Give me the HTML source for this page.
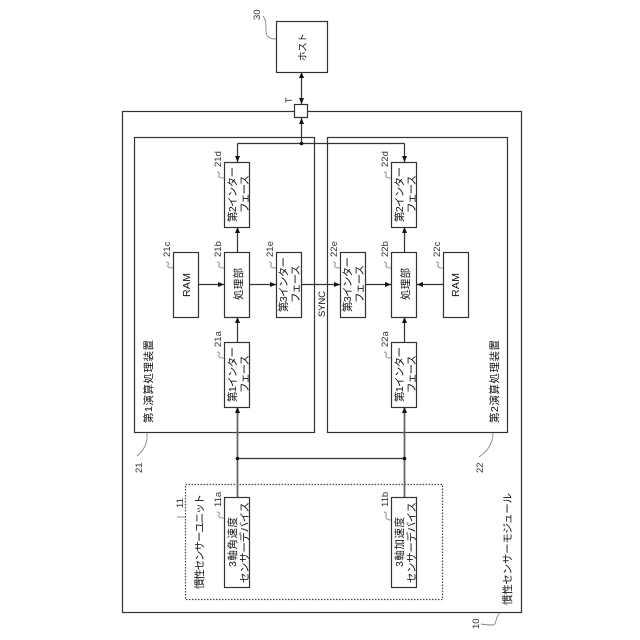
<!DOCTYPE html>
<html lang="ja"><head><meta charset="utf-8">
<style>
html,body{margin:0;padding:0;background:#fff}
svg{display:block}
text{font-family:"Liberation Sans","Noto Sans CJK JP",sans-serif;fill:#111;font-size:10.500px}
.n{font-size:9.500px;fill:#333}
rect{fill:#fff;stroke:#333;stroke-width:1.200}
path.l{fill:none;stroke:#333;stroke-width:1.200}
path.c{fill:none;stroke:#888;stroke-width:.9}
path.a{fill:#111;stroke:none}
</style></head><body>
<svg width="640" height="640" viewBox="0 0 640 640" xmlns="http://www.w3.org/2000/svg">
<rect x="122.500" y="111.500" width="399" height="501"/>
<rect x="134.500" y="137.500" width="180" height="295"/>
<rect x="327.500" y="137.500" width="180" height="295"/>
<rect x="185.500" y="484.500" width="257" height="115" style="stroke-dasharray:1.500 1.500;fill:none;stroke:#444"/>

<!-- connectors -->
<path class="l" d="M301.500 72V104M301.500 118V143.500M237.500 143.500H404.500M237.500 143.500V162M404.500 143.500V162"/>
<path class="l" d="M237.500 252V227M404.500 252V227M199 284.500H224M250 284.500H276M301 284.500H340M365 284.500H391M443 284.500H417"/>
<path class="l" d="M237.500 342V317M404.500 342V317M237.500 458.500H404.500"/>
<path class="l" style="stroke-width:1.800;stroke:#666" d="M237.500 497V407M404.500 497V407"/>

<!-- arrowheads -->
<path class="a" d="M301.500 72l-2.500 6h5zM301.500 104l-2.500-6h5zM301.500 118l-2.500 6h5z"/>
<path class="a" d="M237.500 162l-2.500-6h5zM404.500 162l-2.500-6h5z"/>
<path class="a" d="M237.500 227l-2.500 6h5zM404.500 227l-2.500 6h5z"/>
<path class="a" d="M237.500 317l-2.500 6h5zM404.500 317l-2.500 6h5z"/>
<path class="a" d="M237.500 407l-2.500 6h5zM404.500 407l-2.500 6h5z"/>
<path class="a" d="M224 284.500l-6-2.500v5zM276 284.500l-6-2.500v5zM340 284.500l-6-2.500v5zM391 284.500l-6-2.500v5zM417 284.500l6-2.500v5z"/>
<circle cx="301.500" cy="143.500" r="1.800" fill="#111"/>
<circle cx="237.500" cy="458.500" r="1.800" fill="#111"/>
<circle cx="404.500" cy="458.500" r="1.800" fill="#111"/>

<!-- boxes -->
<rect x="276.500" y="21.500" width="51" height="51"/>
<rect x="294.500" y="104.500" width="13" height="13"/>
<rect x="224.500" y="162.500" width="25" height="65"/>
<rect x="224.500" y="252.500" width="25" height="65"/>
<rect x="173.500" y="252.500" width="25" height="65"/>
<rect x="276.500" y="252.500" width="25" height="65"/>
<rect x="224.500" y="342.500" width="25" height="65"/>
<rect x="391.500" y="162.500" width="25" height="65"/>
<rect x="391.500" y="252.500" width="25" height="65"/>
<rect x="443.500" y="252.500" width="25" height="65"/>
<rect x="340.500" y="252.500" width="25" height="65"/>
<rect x="391.500" y="342.500" width="25" height="65"/>
<rect x="224.500" y="497.500" width="25" height="90"/>
<rect x="391.500" y="497.500" width="25" height="90"/>

<!-- leader lines -->
<path class="c" d="M276 39C268 39 266 36 266 30C266 24 266 20 263 16"/>
<path class="c" d="M224 178C220 178 218 177 219 175C220 173 219 172 217 172"/>
<path class="c" d="M391 178C387 178 385 177 386 175C387 173 386 172 384 172"/>
<path class="c" d="M173 268C169 268 167 267 168 265C169 263 168 262 166 262"/>
<path class="c" d="M224 268C220 268 218 267 219 265C220 263 219 262 217 262"/>
<path class="c" d="M276 268C272 268 270 267 271 265C272 263 271 262 269 262"/>
<path class="c" d="M340 268C336 268 334 267 335 265C336 263 335 262 333 262"/>
<path class="c" d="M391 268C387 268 385 267 386 265C387 263 386 262 384 262"/>
<path class="c" d="M443 268C439 268 437 267 438 265C439 263 438 262 436 262"/>
<path class="c" d="M224 358C220 358 218 357 219 355C220 353 219 352 217 352"/>
<path class="c" d="M391 358C387 358 385 357 386 355C387 353 386 352 384 352"/>
<path class="c" d="M224 518C220 518 218 517 219 515C220 513 219 512 217 512"/>
<path class="c" d="M391 520C387 520 385 518 386 516C387 514 386 512 384 512"/>
<path class="c" d="M185 517C181 517 179 517 177 517"/>
<path class="c" d="M147 433C148 445 142 452 137 456"/>
<path class="c" d="M493 433C493 445 486 452 479 457"/>
<path class="c" d="M500 613C495 616 497 625 493 625C489 625 486 625 481 624"/>

<!-- labels -->
<g>
<text transform="translate(306,61) rotate(-90)" textLength="28" style="font-size:9.500px">ホスト</text>
<text transform="translate(292,103) rotate(-90)" style="font-size:9px">T</text>

<text transform="translate(236,222) rotate(-90)" textLength="55">第2インター</text>
<text transform="translate(248,213) rotate(-90)" textLength="38">フェース</text>
<text transform="translate(242,300) rotate(-90)" textLength="32">処理部</text>
<text transform="translate(190,297) rotate(-90)" textLength="24">RAM</text>
<text transform="translate(287,312) rotate(-90)" textLength="55">第3インター</text>
<text transform="translate(299,303) rotate(-90)" textLength="38">フェース</text>
<text transform="translate(236,402) rotate(-90)" textLength="55">第1インター</text>
<text transform="translate(248,393) rotate(-90)" textLength="38">フェース</text>

<text transform="translate(403,222) rotate(-90)" textLength="55">第2インター</text>
<text transform="translate(415,213) rotate(-90)" textLength="38">フェース</text>
<text transform="translate(409,300) rotate(-90)" textLength="32">処理部</text>
<text transform="translate(459,297) rotate(-90)" textLength="24">RAM</text>
<text transform="translate(351,312) rotate(-90)" textLength="55">第3インター</text>
<text transform="translate(363,303) rotate(-90)" textLength="38">フェース</text>
<text transform="translate(403,402) rotate(-90)" textLength="55">第1インター</text>
<text transform="translate(415,393) rotate(-90)" textLength="38">フェース</text>

<text transform="translate(236,567) rotate(-90)" textLength="50">3軸角速度</text>
<text transform="translate(248,583) rotate(-90)" textLength="81">センサーデバイス</text>
<text transform="translate(403,567) rotate(-90)" textLength="50">3軸加速度</text>
<text transform="translate(415,583) rotate(-90)" textLength="81">センサーデバイス</text>

<text transform="translate(325,317) rotate(-90)" textLength="26" style="font-size:9.500px">SYNC</text>
<text transform="translate(152,423) rotate(-90)" textLength="83">第1演算処理装置</text>
<text transform="translate(498,423) rotate(-90)" textLength="83">第2演算処理装置</text>
<text transform="translate(203,589) rotate(-90)" textLength="95">慣性センサーユニット</text>
<text transform="translate(511,605) rotate(-90)" textLength="112">慣性センサーモジュール</text>

<text class="n" transform="translate(221,167) rotate(-90)">21d</text>
<text class="n" transform="translate(388,167) rotate(-90)">22d</text>
<text class="n" transform="translate(170,257) rotate(-90)">21c</text>
<text class="n" transform="translate(221,257) rotate(-90)">21b</text>
<text class="n" transform="translate(273,257) rotate(-90)">21e</text>
<text class="n" transform="translate(337,257) rotate(-90)">22e</text>
<text class="n" transform="translate(388,257) rotate(-90)">22b</text>
<text class="n" transform="translate(440,257) rotate(-90)">22c</text>
<text class="n" transform="translate(221,347) rotate(-90)">21a</text>
<text class="n" transform="translate(388,347) rotate(-90)">22a</text>
<text class="n" transform="translate(221,507) rotate(-90)">11a</text>
<text class="n" transform="translate(388,507) rotate(-90)">11b</text>
<text class="n" transform="translate(183,508) rotate(-90)">11</text>
<text class="n" transform="translate(142,473) rotate(-90)">21</text>
<text class="n" transform="translate(483,473) rotate(-90)">22</text>
<text class="n" transform="translate(479,629) rotate(-90)">10</text>
<text class="n" transform="translate(260,20) rotate(-90)">30</text>
</g>
</svg>
</body></html>
